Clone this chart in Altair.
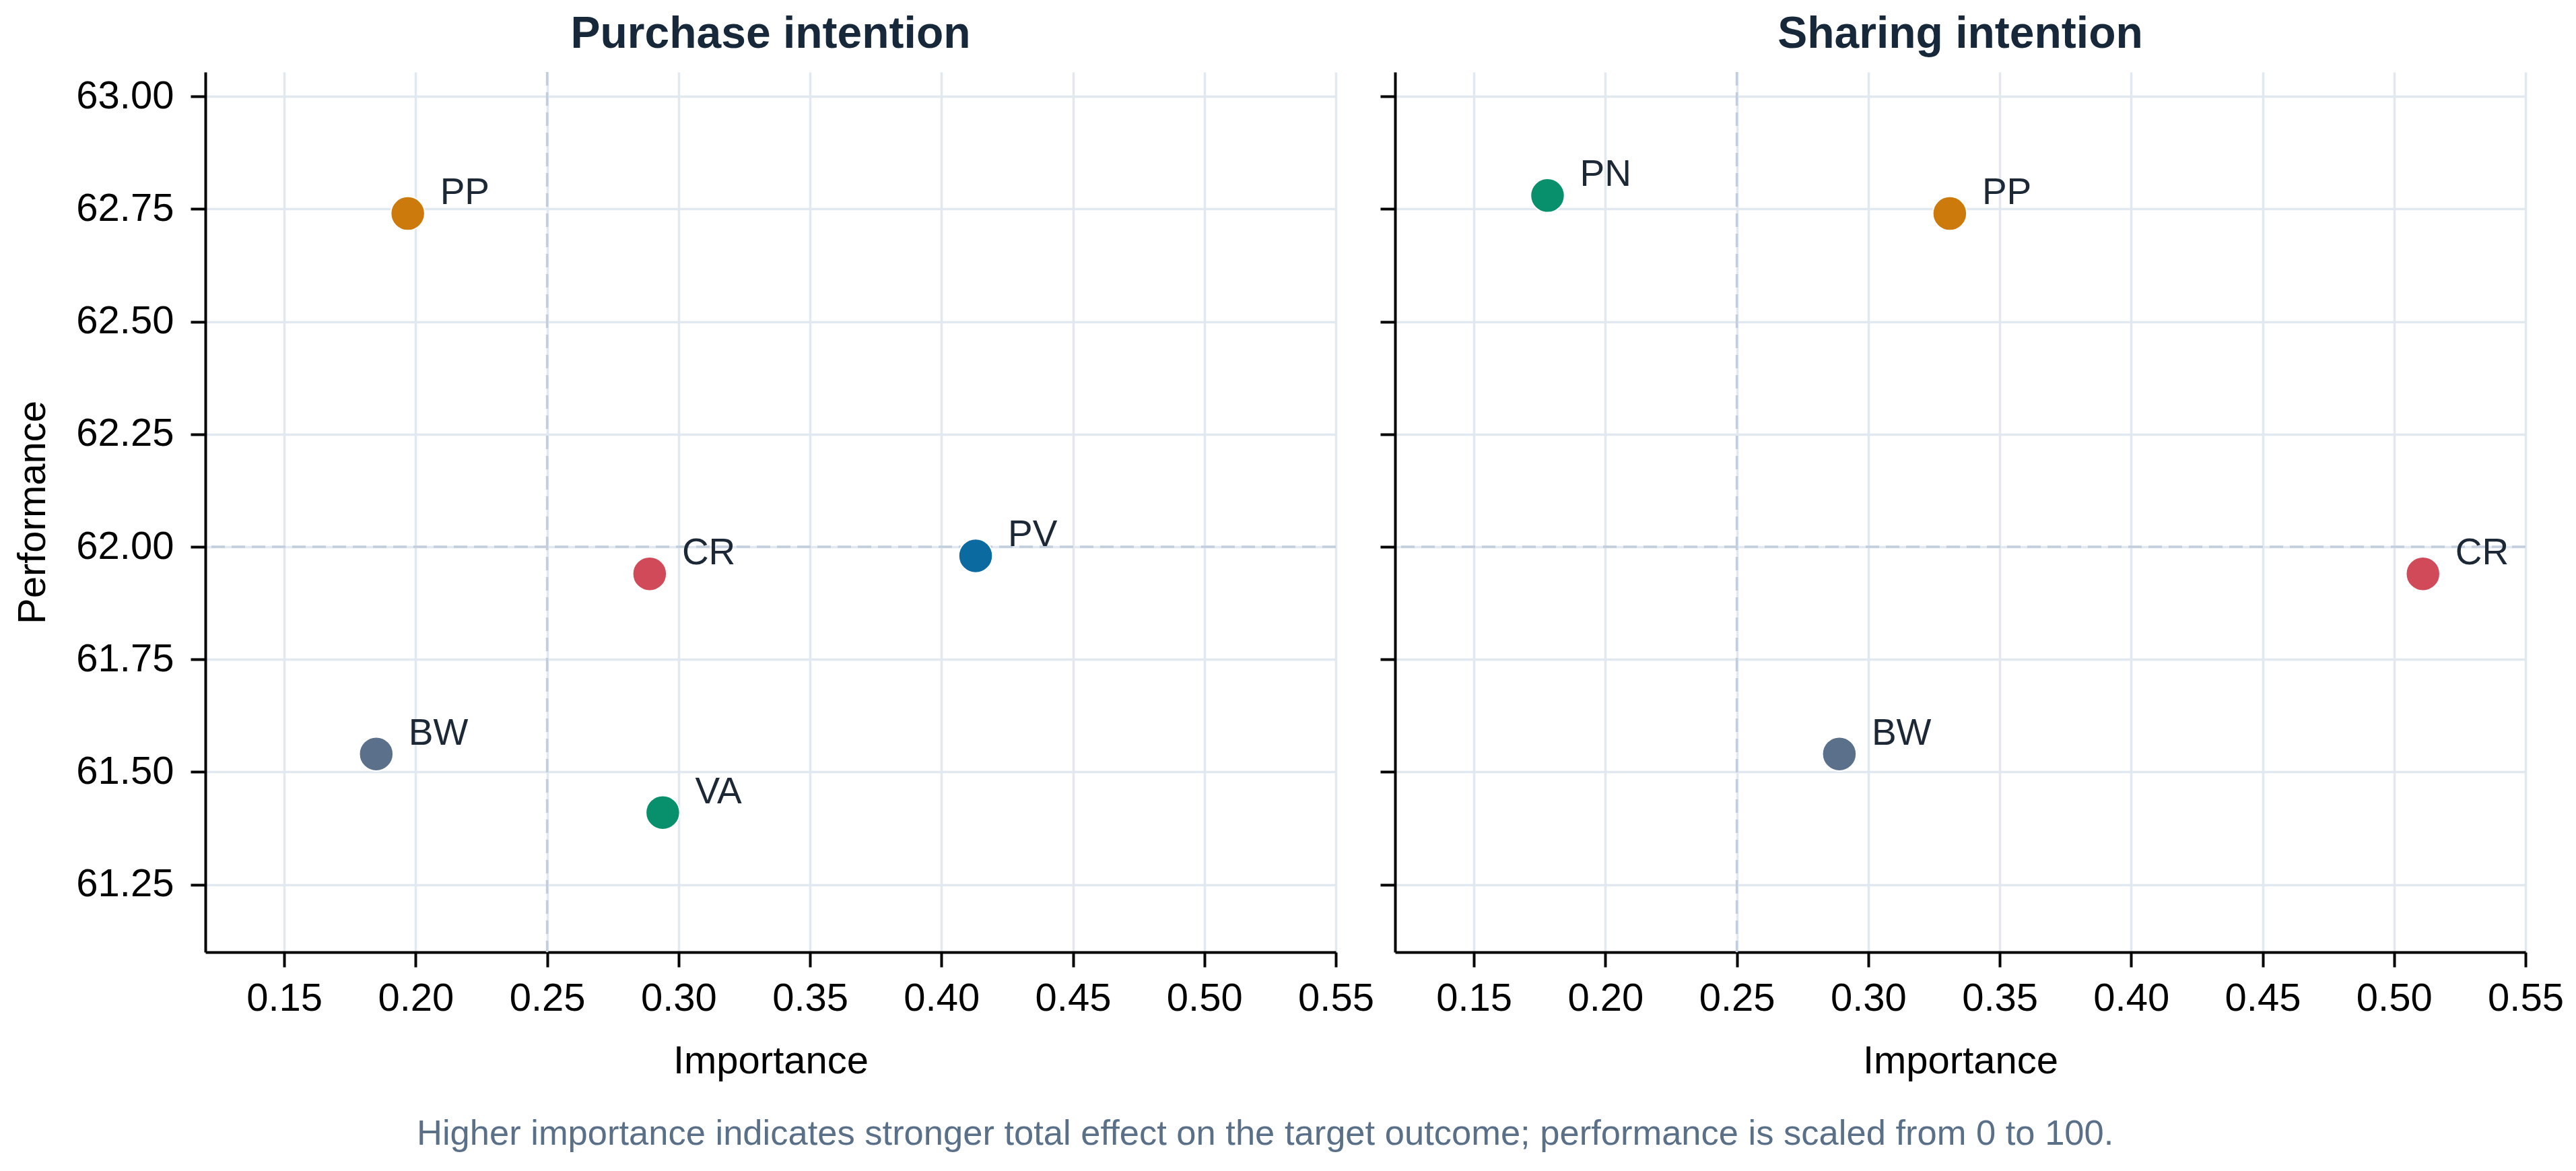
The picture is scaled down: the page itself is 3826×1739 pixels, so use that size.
import altair as alt
import pandas as pd

# Importance-performance values per outcome
purchase_constructs = ["PP", "CR", "PV", "BW", "VA"]
purchase_importance = [0.197, 0.289, 0.413, 0.185, 0.294]
purchase_performance = [62.74, 61.94, 61.98, 61.54, 61.41]

sharing_constructs = ["PN", "PP", "CR", "BW"]
sharing_importance = [0.178, 0.331, 0.511, 0.289]
sharing_performance = [62.78, 62.74, 61.94, 61.54]

# Colour per construct
color_domain = ["PP", "PV", "CR", "BW", "VA", "PN"]
color_range = ["#cc7a0c", "#0b6aa0", "#d14a5a", "#5b708a", "#08906d", "#08906d"]

# Quadrant split lines
importance_cut = [0.25]
performance_cut = [62.0]

x_ticks = [0.15, 0.20, 0.25, 0.30, 0.35, 0.40, 0.45, 0.50, 0.55]
y_ticks = [61.25, 61.50, 61.75, 62.00, 62.25, 62.50, 62.75, 63.00]
x_domain = [0.12, 0.55]
y_domain = [61.10, 63.054]

FONT = "Liberation Sans"
PANEL_W = 1679
PANEL_H = 1307


def panel(title, constructs, importance, performance, show_y_labels):
    df = pd.DataFrame({"construct": constructs,
                       "importance": importance,
                       "performance": performance})
    x_enc = alt.X("importance:Q", scale=alt.Scale(domain=x_domain, nice=False, zero=False),
                  axis=alt.Axis(values=x_ticks, format=".2f", title="Importance",
                                labelFlush=False, labelPadding=18, titlePadding=35))
    if show_y_labels:
        y_axis = alt.Axis(values=y_ticks, format=".2f", title="Performance",
                          labelPadding=25, titlePadding=34)
    else:
        y_axis = alt.Axis(values=y_ticks, format=".2f", title=None, labels=False)
    y_enc = alt.Y("performance:Q", scale=alt.Scale(domain=y_domain, nice=False, zero=False),
                  axis=y_axis)

    base = alt.Chart(df)
    vline = alt.Chart(pd.DataFrame({"v": importance_cut})).mark_rule(
        color="#c2cedb", strokeWidth=3.5, strokeDash=[20, 10]
    ).encode(x=alt.X("v:Q", scale=alt.Scale(domain=x_domain, nice=False, zero=False)))
    hline = alt.Chart(pd.DataFrame({"h": performance_cut})).mark_rule(
        color="#c2cedb", strokeWidth=3.5, strokeDash=[20, 10]
    ).encode(y=alt.Y("h:Q", scale=alt.Scale(domain=y_domain, nice=False, zero=False)))

    points = base.mark_circle(size=2550, opacity=1, stroke="white", strokeWidth=2).encode(
        x=x_enc,
        y=y_enc,
        color=alt.Color("construct:N",
                        scale=alt.Scale(domain=color_domain, range=color_range),
                        legend=None),
    )
    labels = base.mark_text(align="left", baseline="alphabetic", dx=48, dy=-14,
                            font=FONT, fontSize=55, color="#1c2836").encode(
        x="importance:Q", y="performance:Q", text="construct:N")

    return alt.layer(vline, hline, points, labels).properties(
        width=PANEL_W, height=PANEL_H,
        title=alt.TitleParams(text=title, font=FONT, fontSize=66, fontWeight="bold",
                              color="#16283a", anchor="middle", offset=20),
    )


left = panel("Purchase intention", purchase_constructs, purchase_importance,
             purchase_performance, True)
right = panel("Sharing intention", sharing_constructs, sharing_importance,
              sharing_performance, False)

chart = alt.hconcat(left, right, spacing=88, bounds="flush").properties(
    title=alt.TitleParams(
        text="Higher importance indicates stronger total effect on the target outcome; "
             "performance is scaled from 0 to 100.",
        orient="bottom", anchor="middle", font=FONT, fontSize=52.5,
        fontWeight="normal", color="#5a7088", offset=54, dx=-35),
    padding={"left": 20, "top": 18, "right": 10, "bottom": 10},
    background="white",
).configure_view(strokeWidth=0).configure_axis(
    labelFont=FONT, labelFontSize=58, labelColor="#000000",
    titleFont=FONT, titleFontSize=58, titleFontWeight="normal", titleColor="#000000",
    domainColor="#000000", domainWidth=4, tickColor="#000000", tickWidth=4, tickSize=22,
    gridColor="#e2e8f0", gridWidth=3.5,
)

chart.save("out.html", embed_options={"renderer": "svg", "actions": False})
